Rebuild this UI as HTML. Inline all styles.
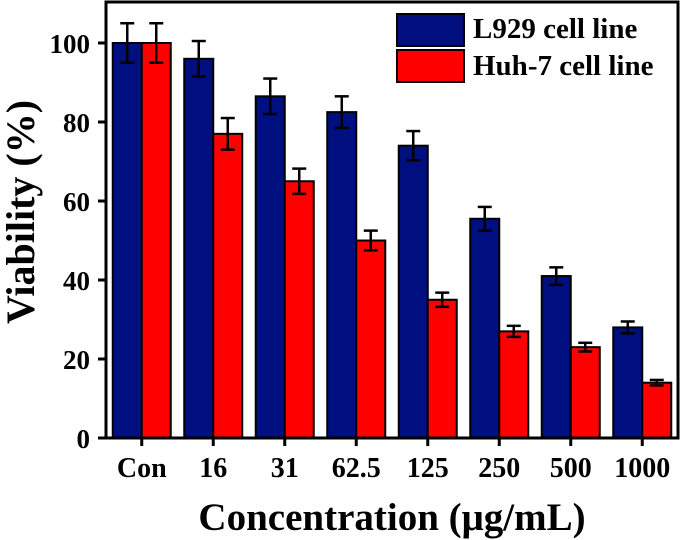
<!DOCTYPE html>
<html><head><meta charset="utf-8"><style>
body{margin:0;background:#fff;}
svg{display:block;font-family:"Liberation Serif",serif;font-weight:bold;}
</style></head><body>
<svg id="chart" width="685" height="540"></svg>
<script>
const categories=["Con","16","31","62.5","125","250","500","1000"];
const l929Values=[100,96,86.5,82.5,74,55.5,41,28];
const l929Errors=[5,4.5,4.5,4,3.7,3,2.2,1.5];
const huhValues=[100,77,65,50,35,27,23,14];
const huhErrors=[5,4,3.2,2.5,1.8,1.4,1.1,0.7];
const yTicks=[0,20,40,60,80,100];
const seriesNames=["L929 cell line","Huh-7 cell line"];

const NS="http://www.w3.org/2000/svg";
const svg=document.getElementById('chart');
const L=106,R=678,T=2,B=438;
const y=v=>B-v*3.95;
const band=(R-L)/categories.length;
const xc=i=>L+band*(i+0.5);
const bw=29;
function mk(tag,attrs,parent){const e=document.createElementNS(NS,tag);for(const k in attrs)e.setAttribute(k,attrs[k]);(parent||svg).appendChild(e);return e;}

function drawSeries(vals,errs,color,offset,name){
  vals.forEach((v,i)=>{
    const x=xc(i)+offset;
    const r=mk('rect',{x:x,y:y(v),width:bw,height:B-y(v),fill:color,stroke:'#000','stroke-width':2});
    
    
    const cx=x+bw/2,e=errs[i];
    const g=mk('g',{stroke:'#000','stroke-width':2.5});
    
    
    mk('line',{x1:cx,x2:cx,y1:y(v+e),y2:y(v-e)},g);
    mk('line',{x1:cx-7,x2:cx+7,y1:y(v+e),y2:y(v+e)},g);
    mk('line',{x1:cx-7,x2:cx+7,y1:y(v-e),y2:y(v-e)},g);
  });
}
drawSeries(l929Values,l929Errors,'#000f80',-bw,'l929');
drawSeries(huhValues,huhErrors,'#ff0000',0,'huh7');

const frame=mk('rect',{x:L,y:T,width:R-L,height:B-T,fill:'none',stroke:'#000','stroke-width':3});



yTicks.forEach(t=>{
  mk('line',{x1:L-8,x2:L,y1:y(t),y2:y(t),stroke:'#000','stroke-width':3});
  const tx=mk('text',{x:L-16,y:y(t)+10,'text-anchor':'end','font-size':27});
  tx.textContent=t;
  
  
});
categories.forEach((c,i)=>{
  mk('line',{x1:xc(i),x2:xc(i),y1:B,y2:B+8,stroke:'#000','stroke-width':3});
  const tx=mk('text',{x:xc(i),y:477,'text-anchor':'middle','font-size':28});
  tx.textContent=c;
  
  
});

const xt=mk('text',{x:392,y:530,'text-anchor':'middle','font-size':39});
xt.textContent='Concentration (μg/mL)';


const yt=mk('text',{x:0,y:0,'text-anchor':'middle','font-size':40,transform:'translate(34,212) rotate(-90)'});
yt.textContent='Viability (%)';



const colors=['#000f80','#ff0000'];
seriesNames.forEach((n,i)=>{
  const g=mk('g',{});
  
  
  mk('rect',{x:397,y:14+i*36,width:67,height:32,fill:colors[i],stroke:'#000','stroke-width':2},g);
  const t=mk('text',{x:473,y:38+i*37,'font-size':29},g);
  t.textContent=n;
});
</script>
</body></html>
